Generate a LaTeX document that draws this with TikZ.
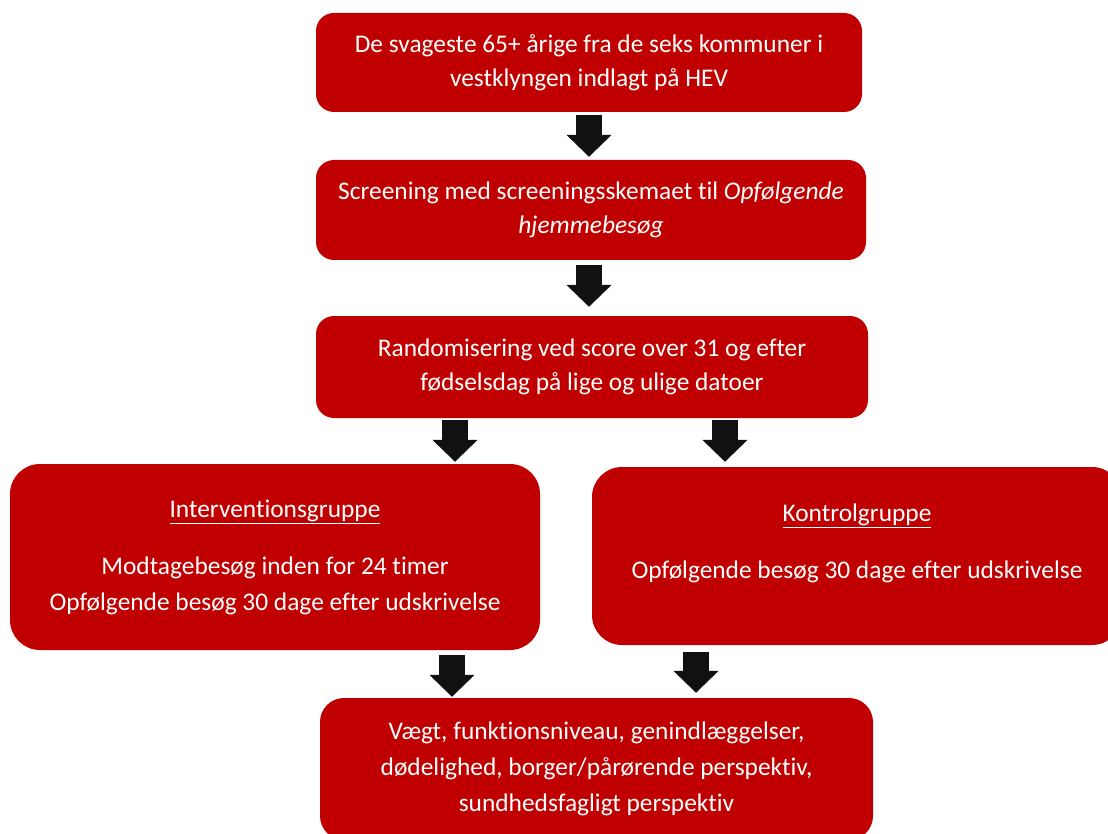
\documentclass[tikz,border=0pt]{standalone}
\usepackage{fontspec}
\setmainfont{Carlito}[Ligatures={NoCommon}]
\usetikzlibrary{arrows.meta}
\definecolor{boxred}{RGB}{192,0,0}
\definecolor{arrowblack}{RGB}{17,17,17}
\begin{document}
\begin{tikzpicture}[x=1pt,y={(0pt,-1pt)},
  box/.style={fill=boxred, rounded corners=18pt, text=white, align=center, inner sep=0pt,
    font=\fontsize{25.4}{34}\selectfont},
  bigbox/.style={box, rounded corners=30pt, font=\fontsize{25.4}{36}\selectfont},
  txt/.style={text=white, align=center, inner sep=0pt, font=\fontsize{25.4}{36}\selectfont},
  barrow/.style={draw=arrowblack, line width=26pt, -{Triangle[length=22pt,width=44pt]}}]
\useasboundingbox (0,0) rectangle (1108,834);
\clip (0,0) rectangle (1108,834);
\node[box, minimum width=546pt, minimum height=99pt] (b1) at (589,62.5)
  {\fontsize{25.4}{33}\selectfont De svageste 65+ årige fra de seks kommuner i\\vestklyngen indlagt på HEV};
\node[box, minimum width=550pt, minimum height=100pt] (b2) at (591,210)
  {Screening med screeningsskemaet til \textit{Opfølgende}\\\textit{hjemmebesøg}};
\node[box, minimum width=552pt, minimum height=102pt] (b3) at (592,367)
  {Randomisering ved score over 31 og efter\\fødselsdag på lige og ulige datoer};
\node[bigbox, minimum width=530pt, minimum height=186pt] (left) at (275,557)
  {\underline{Interventionsgruppe}\\[21pt]Modtagebesøg inden for 24 timer\\Opfølgende besøg 30 dage efter udskrivelse};
\node[bigbox, minimum width=530pt, minimum height=178pt] (right) at (857,556) {};
\node[txt] (rtxt) at (857,543)
  {\underline{Kontrolgruppe}\\[21pt]Opfølgende besøg 30 dage efter udskrivelse};
\node[bigbox, rounded corners=24pt, minimum width=553pt, minimum height=142pt] (bot) at (596.5,769)
  {Vægt, funktionsniveau, genindlæggelser,\\dødelighed, borger/pårørende perspektiv,\\sundhedsfagligt perspektiv};
\coordinate (ax1) at (589,0);
\coordinate (ax3) at (455,0);
\coordinate (ax4) at (725,0);
\coordinate (ax5) at (452,0);
\coordinate (ax6) at (696,0);
\draw[barrow, shorten <=3pt, shorten >=3pt] (b1.south -| ax1) -- (b2.north -| ax1);
\draw[barrow, shorten <=5pt, shorten >=9pt] (b2.south -| ax1) -- (b3.north -| ax1);
\draw[barrow, shorten <=2pt, shorten >=2pt] (b3.south -| ax3) -- (left.north -| ax3);
\draw[barrow, shorten <=2pt, shorten >=5pt] (b3.south -| ax4) -- (right.north -| ax4);
\draw[barrow, shorten <=5pt, shorten >=1pt] (left.south -| ax5) -- (bot.north -| ax5);
\draw[barrow, shorten <=7pt, shorten >=5pt] (right.south -| ax6) -- (bot.north -| ax6);
\end{tikzpicture}
\end{document}
